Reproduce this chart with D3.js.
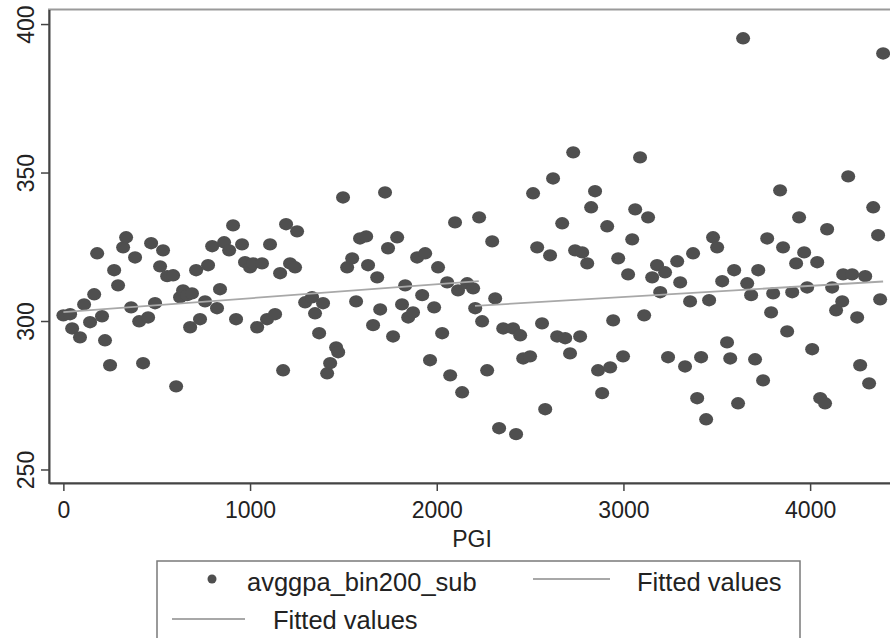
<!DOCTYPE html>
<html><head><meta charset="utf-8">
<script src="https://cdn.jsdelivr.net/npm/d3@7"></script>
<style>body{margin:0;background:#fff}svg{display:block}</style>
</head><body><svg id="c" width="890" height="638"></svg>
<script>
// ---- data ----
const pgi = [0,36,47,89,111,143,165,181,207,223,250,272,293,320,336,363,384,406,427,454,
470,491,518,534,556,588,604,625,641,663,679,689,711,732,759,775,797,823,839,861,
888,909,925,957,973,1000,1016,1038,1064,1091,1107,1134,1161,1177,1193,1214,1252,1241,1295,1332,
1348,1370,1391,1413,1429,1461,1472,1498,1520,1547,1568,1589,1622,1632,1659,1681,1697,1723,1739,1766,
1788,1814,1831,1847,1873,1895,1922,1938,1964,1986,2007,2029,2056,2072,2098,2114,2136,2163,2195,2206,
2227,2243,2270,2297,2313,2334,2356,2409,2425,2447,2463,2500,2516,2538,2564,2581,2607,2623,2645,2672,
2688,2714,2731,2741,2768,2779,2806,2827,2848,2864,2886,2913,2929,2945,2972,2998,3025,3047,3063,3089,
3111,3132,3154,3180,3197,3223,3239,3288,3304,3330,3357,3373,3395,3416,3443,3459,3480,3502,3529,3555,
3572,3593,3614,3641,3663,3684,3705,3722,3748,3770,3791,3802,3839,3855,3877,3904,3925,3941,3968,3984,
4011,4038,4054,4080,4091,4118,4139,4172,4177,4204,4225,4252,4268,4295,4316,4338,4364,4375,4391];
const avggpa = [301.9,302.3,297.5,294.5,305.6,299.6,309.0,322.8,301.6,293.5,285.1,317.1,312.0,324.8,328.2,304.6,321.4,299.9,285.8,301.2,
326.2,306.0,318.4,323.8,315.1,315.4,278.0,308.0,310.3,308.7,297.9,309.3,317.1,300.6,306.6,318.8,325.2,304.3,310.7,326.5,
323.8,332.2,300.6,325.8,319.8,318.1,319.4,297.9,319.4,300.6,325.8,302.3,316.1,283.4,332.6,319.4,330.2,318.1,306.3,308.0,
302.6,295.9,306.0,282.4,285.8,291.1,289.5,341.6,318.1,321.1,306.6,327.8,328.5,318.8,298.6,314.7,303.9,343.3,324.5,294.8,
328.2,305.6,312.0,301.2,302.9,321.4,308.7,322.8,286.8,304.6,318.1,295.9,313.0,281.7,333.2,310.3,276.0,312.7,311.0,304.3,
334.9,299.9,283.4,326.8,307.6,263.9,297.5,297.5,261.9,295.2,287.4,288.1,343.0,324.8,299.2,270.3,322.1,348.0,294.8,332.9,
294.2,289.1,356.8,323.8,294.8,323.1,319.4,338.3,343.7,283.4,275.7,331.9,284.4,300.2,321.1,288.1,315.7,327.5,337.6,355.1,
301.9,334.9,314.7,318.8,309.7,316.4,287.8,320.1,313.0,284.7,306.6,322.8,274.0,287.8,266.9,307.0,328.2,324.8,313.4,292.8,
287.4,317.1,272.3,395.2,312.7,308.7,287.1,317.1,280.0,327.8,302.9,309.3,344.0,324.8,296.5,309.7,319.4,334.9,323.1,311.3,
290.5,319.8,274.0,272.3,330.9,311.3,303.6,306.6,315.7,348.7,315.7,301.2,285.1,315.1,279.0,338.3,328.9,307.3,390.1];
// fitted lines (endpoints)
const fit1Pgi = [0, 2225];
const fit1Val = [303.0, 313.4];
const fit2Pgi = [2205, 4391];
const fit2Val = [305.1, 313.3];
const xTicks = [0, 1000, 2000, 3000, 4000];
const yTicks = [250, 300, 350, 400];
const xTitle = "PGI";
const legendLabels = ["avggpa_bin200_sub", "Fitted values", "Fitted values"];

// ---- drawing ----
const svg = d3.select("#c");
const FONT = "'Liberation Sans', Arial, Helvetica, sans-serif";
const x = d3.scaleLinear().domain([-77, 4460]).range([49, 896]);
const y = d3.scaleLinear().domain([245.45, 404.9]).range([483, 9.5]);

svg.append("rect").attr("width", 890).attr("height", 638).attr("fill", "#fff");

// plot region frame
svg.append("rect")
  .attr("x", x.range()[0]).attr("y", y.range()[1])
  .attr("width", x.range()[1] - x.range()[0]).attr("height", y.range()[0] - y.range()[1])
  .attr("fill", "none").attr("stroke", "#9a9a9a").attr("stroke-width", 2);

// points
const pts = pgi.map((p, i) => ({p, v: avggpa[i]}));
svg.append("g").selectAll("ellipse").data(pts).join("ellipse")
  .attr("cx", d => x(d.p)).attr("cy", d => y(d.v))
  .attr("rx", 7).attr("ry", 6.2)
  .attr("fill", "#4f4f4f");

// fitted lines
const line = d3.line().x(d => x(d[0])).y(d => y(d[1]));
[[fit1Pgi, fit1Val], [fit2Pgi, fit2Val]].forEach(([ps, vs]) => {
  svg.append("path").datum(ps.map((p, i) => [p, vs[i]]))
    .attr("d", line).attr("fill", "none")
    .attr("stroke", "#a8a8a8").attr("stroke-width", 1.8);
});

// y axis
const gy = svg.append("g").attr("transform", `translate(${x.range()[0]},0)`)
  .call(d3.axisLeft(y).tickValues(yTicks).tickSize(8).tickSizeOuter(0).tickFormat(d3.format("d")));
gy.select(".domain").attr("stroke", "#444").attr("stroke-width", 2);
gy.selectAll(".tick line").attr("stroke", "#444").attr("stroke-width", 1.5);
gy.selectAll(".tick text")
  .attr("transform", "rotate(-90)")
  .attr("x", 0).attr("y", -15.5).attr("dy", 0)
  .attr("text-anchor", "middle")
  .style("font-family", FONT).style("font-size", "23px").attr("fill", "#222");

// x axis
const gx = svg.append("g").attr("transform", `translate(0,${y.range()[0]})`)
  .call(d3.axisBottom(x).tickValues(xTicks).tickSize(8).tickSizeOuter(0).tickFormat(d3.format("d")));
gx.select(".domain").attr("stroke", "#444").attr("stroke-width", 2);
gx.selectAll(".tick line").attr("stroke", "#444").attr("stroke-width", 1.5);
gx.selectAll(".tick text")
  .attr("y", 35).attr("dy", 0)
  .style("font-family", FONT).style("font-size", "23px").attr("fill", "#222");

svg.append("text").attr("x", 472).attr("y", 547).attr("text-anchor", "middle")
  .style("font-family", FONT).style("font-size", "23px").attr("fill", "#222").text(xTitle);

// legend
const lg = svg.append("g");
lg.append("rect").attr("x", 157).attr("y", 561).attr("width", 643).attr("height", 100)
  .attr("fill", "#fff").attr("stroke", "#7a7a7a").attr("stroke-width", 1.5);
lg.append("ellipse").attr("cx", 212).attr("cy", 579).attr("rx", 4.5).attr("ry", 4.5).attr("fill", "#4f4f4f");
lg.append("text").attr("x", 247).attr("y", 591).text(legendLabels[0]);
lg.append("line").attr("x1", 533).attr("x2", 610).attr("y1", 579).attr("y2", 579)
  .attr("stroke", "#a8a8a8").attr("stroke-width", 1.8);
lg.append("text").attr("x", 637).attr("y", 591).text(legendLabels[1]);
lg.append("line").attr("x1", 172).attr("x2", 245).attr("y1", 619).attr("y2", 619)
  .attr("stroke", "#a8a8a8").attr("stroke-width", 1.8);
lg.append("text").attr("x", 273).attr("y", 629).text(legendLabels[2]);
lg.selectAll("text").style("font-family", FONT).style("font-size", "25.5px").attr("fill", "#222");
</script></body></html>
